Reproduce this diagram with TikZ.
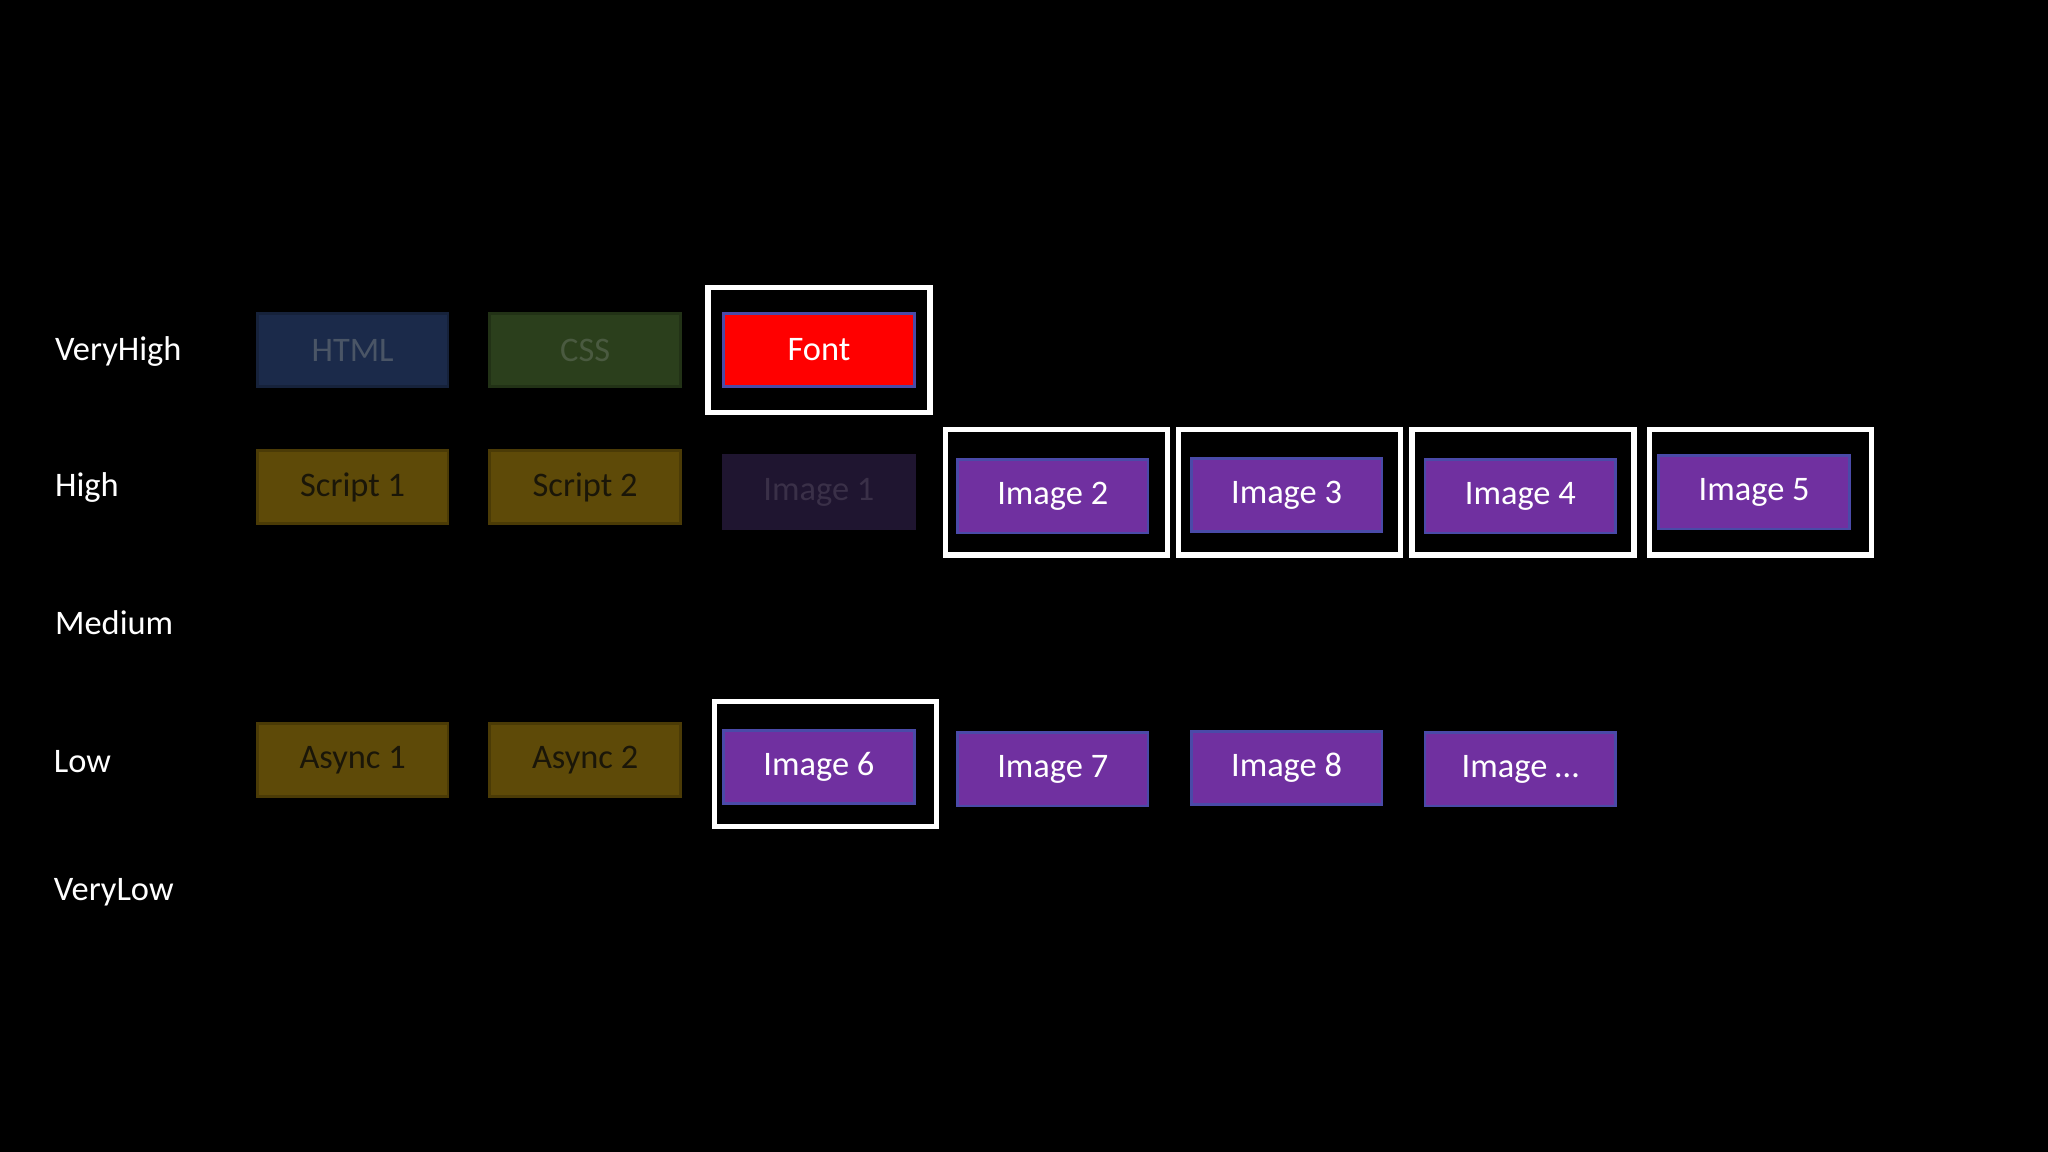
\documentclass[tikz,border=0pt]{standalone}
\usepackage{fontspec}
\setmainfont{Carlito}
\definecolor{bg}{HTML}{000000}
\definecolor{purp}{HTML}{7030A0}
\definecolor{pedge}{HTML}{4A4AA8}
\definecolor{dhtml}{HTML}{1B2A4A}
\definecolor{dhtmlt}{HTML}{4A5566}
\definecolor{dcss}{HTML}{2B3F1C}
\definecolor{dcsst}{HTML}{4A5A40}
\definecolor{dscr}{HTML}{5E4A08}
\definecolor{dscrt}{HTML}{1A1608}
\definecolor{dimg}{HTML}{1F1530}
\definecolor{dimgt}{HTML}{3A3048}
\tikzset{
 x=0.02cm,y=-0.02cm,
 box/.style={draw, line width=1.2pt, minimum width=2.92cm, minimum height=1.12cm, inner sep=0pt, font=\fontsize{15}{18}\selectfont},
 img/.style={box, fill=purp, draw=pedge, text=white},
 frame/.style={draw=white, line width=0.08cm, minimum width=3.4cm, minimum height=1.92cm, inner sep=0pt},
 lab/.style={anchor=west, text=white, font=\fontsize{15}{18}\selectfont}
}
\begin{document}
\begin{tikzpicture}
\fill[bg] (0,0) rectangle (1568,882);
\node[lab] (l1) at (36,269) {VeryHigh};
\node[lab] (l2) at (36,373) {High};
\node[lab] (l3) at (36,477) {Medium};
\node[lab] (l4) at (35,583) {Low};
\node[lab] (l5) at (35,683) {VeryLow};
\node[box, fill=dhtml, draw=dhtml!80!black, text=dhtmlt] (html) at (270,268) {HTML};
\node[box, fill=dcss, draw=dcss!80!black, text=dcsst] (css) at (448,268) {CSS};
\node[box, fill=red, draw=pedge, text=white] (font) at (627,268) {Font};
\node[frame] (ffont) at (627,268) {};
\node[box, fill=dscr, draw=dscr!80!black, text=dscrt] (s1) at (270,373) {Script 1};
\node[box, fill=dscr, draw=dscr!80!black, text=dscrt] (s2) at (448,373) {Script 2};
\node[box, fill=dimg, draw=dimg, text=dimgt] (i1) at (627,377) {Image 1};
\node[img] (i2) at (806,380) {Image 2};
\node[frame] (fi2) at (809,377) {};
\node[img] (i3) at (985,379) {Image 3};
\node[frame] (fi3) at (987,377) {};
\node[img] (i4) at (1164,380) {Image 4};
\node[frame] (fi4) at (1166,377) {};
\node[img] (i5) at (1343,377) {Image 5};
\node[frame] (fi5) at (1348,377) {};
\node[box, fill=dscr, draw=dscr!80!black, text=dscrt] (a1) at (270,582) {Async 1};
\node[box, fill=dscr, draw=dscr!80!black, text=dscrt] (a2) at (448,582) {Async 2};
\node[img] (i6) at (627,587) {Image 6};
\node[frame] (fi6) at (632,585) {};
\node[img] (i7) at (806,589) {Image 7};
\node[img] (i8) at (985,588) {Image 8};
\node[img] (i9) at (1164,589) {Image \dots};
\end{tikzpicture}
\end{document}
